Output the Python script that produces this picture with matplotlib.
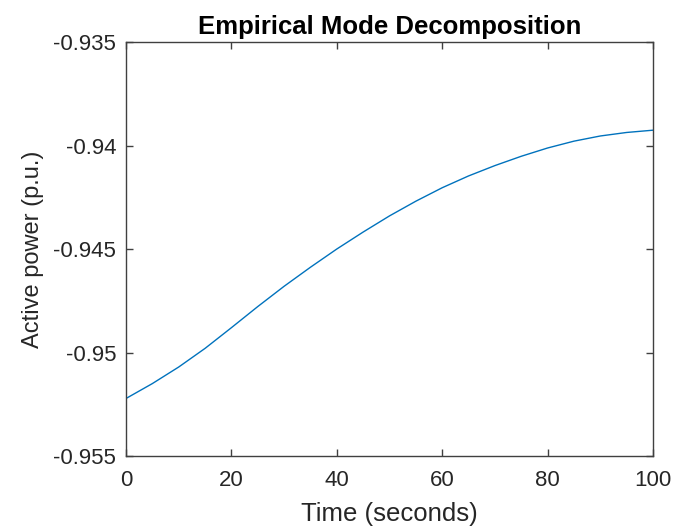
import matplotlib
matplotlib.use("Agg")
import matplotlib.pyplot as plt

# time axis (s) and active power (p.u.)
time_s = [0, 5, 10, 15, 20, 25, 30, 35, 40, 45, 50,
          55, 60, 65, 70, 75, 80, 85, 90, 95, 100]
active_power = [-0.95222, -0.95150, -0.95070, -0.94980, -0.94880, -0.94778,
                -0.94680, -0.94588, -0.94500, -0.94418, -0.94340,
                -0.94269, -0.94204, -0.94147, -0.94097, -0.94052,
                -0.94012, -0.93979, -0.93954, -0.93937, -0.93926]

x_ticks = [0, 20, 40, 60, 80, 100]
y_ticks = [-0.955, -0.95, -0.945, -0.94, -0.935]
y_tick_labels = ["-0.955", "-0.95", "-0.945", "-0.94", "-0.935"]

plt.rcParams["font.family"] = ["Liberation Sans", "DejaVu Sans"]

fig = plt.figure(figsize=(6.75, 5.31), dpi=100)
ax = fig.add_axes([0.1867, 0.1412, 0.7807, 0.7797])

ax.plot(time_s, active_power, color="#0072BD", linewidth=1.0)

ax.set_xlim(0, 100)
ax.set_ylim(-0.955, -0.935)
ax.set_xticks(x_ticks)
ax.set_xticklabels([str(t) for t in x_ticks])
ax.set_yticks(y_ticks)
ax.set_yticklabels(y_tick_labels)

axis_col = "#262626"
for sp in ax.spines.values():
    sp.set_color("#404040")
    sp.set_linewidth(1.0)
ax.tick_params(direction="in", length=5, width=1.0, color="#404040",
               top=True, right=True, labelsize=16, labelcolor=axis_col)
ax.tick_params(axis="x", pad=10)
ax.tick_params(axis="y", pad=7)

ax.set_xlabel("Time (seconds)", fontsize=18.5, color=axis_col, labelpad=8)
ax.set_ylabel("Active power (p.u.)", fontsize=17, color=axis_col, labelpad=7)
ax.set_title("Empirical Mode Decomposition", fontsize=18.5, fontweight="bold",
             color="black", pad=6)

fig.savefig("out.png", dpi=100)
